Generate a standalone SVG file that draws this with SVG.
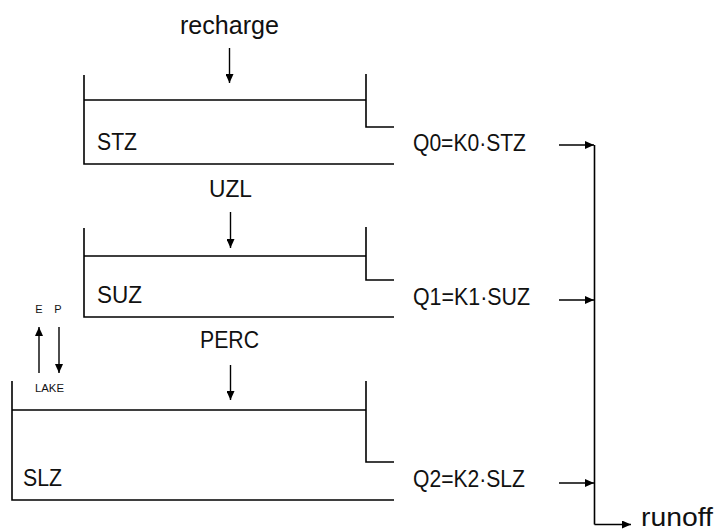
<svg xmlns="http://www.w3.org/2000/svg" width="719" height="531" viewBox="0 0 719 531">
<style>
  .ln{stroke:#000;stroke-width:1.6;fill:none}
  .ar{stroke:#000;stroke-width:1.4;fill:none;marker-end:url(#ah)}
  .t{font-family:"Liberation Sans",Arial,sans-serif;font-size:24px;fill:#111}
  .lc{font-family:"Liberation Sans",Arial,sans-serif;font-size:25px;fill:#111}
  .s{font-family:"Liberation Sans",Arial,sans-serif;font-size:11px;fill:#111}
</style>
<defs>
  <marker id="ah" markerUnits="userSpaceOnUse" markerWidth="10" markerHeight="8" refX="9" refY="4" orient="auto">
    <path d="M0,0 L9,4 L0,8 Z" fill="#000"/>
  </marker>
</defs>
<rect width="719" height="531" fill="#fff"/>

<g id="recharge"><text class="lc" x="229.5" y="34" text-anchor="middle" textLength="99" lengthAdjust="spacingAndGlyphs">recharge</text></g>

<g id="STZ">
  <path class="ln" d="M84,75 V164 H394 M84,100 H366 M366,74 V127 H394"/>
  <text class="t" x="97" y="150" textLength="40" lengthAdjust="spacingAndGlyphs">STZ</text>
</g>
<g id="Q0"><text class="t" x="413" y="151" textLength="113" lengthAdjust="spacingAndGlyphs">Q0=K0·STZ</text></g>

<g id="UZL"><text class="t" x="230.5" y="197" text-anchor="middle" textLength="43" lengthAdjust="spacingAndGlyphs">UZL</text></g>

<g id="SUZ">
  <path class="ln" d="M84,228 V317 H394 M84,256 H366 M366,227 V280 H394"/>
  <text class="t" x="97" y="303" textLength="45" lengthAdjust="spacingAndGlyphs">SUZ</text>
</g>
<g id="Q1"><text class="t" x="413" y="305" textLength="117" lengthAdjust="spacingAndGlyphs">Q1=K1·SUZ</text></g>

<g id="PERC"><text class="t" x="229.5" y="348" text-anchor="middle" textLength="59" lengthAdjust="spacingAndGlyphs">PERC</text></g>

<g id="EP">
  <text class="s" x="39" y="313" text-anchor="middle" font-size="10">E</text>
  <text class="s" x="58" y="313" text-anchor="middle" font-size="10">P</text>
</g>
<g id="LAKE"><text class="s" x="49.5" y="392" text-anchor="middle" textLength="29" lengthAdjust="spacingAndGlyphs">LAKE</text></g>

<g id="SLZ">
  <path class="ln" d="M12,381 V500 H394 M12,410 H366 M366,381 V462 H394"/>
  <text class="t" x="23" y="486" textLength="39" lengthAdjust="spacingAndGlyphs">SLZ</text>
</g>
<g id="Q2"><text class="t" x="413" y="487" textLength="112" lengthAdjust="spacingAndGlyphs">Q2=K2·SLZ</text></g>

<g id="runoff"><text class="lc" x="641" y="526" font-size="23" textLength="72" lengthAdjust="spacingAndGlyphs">runoff</text></g>

<g id="connectors">
  <path class="ar" d="M229.5,48 V83"/>
  <path class="ar" d="M230.5,212 V248"/>
  <path class="ar" d="M230.5,365 V400"/>
  <path class="ar" d="M39,373 V327"/>
  <path class="ar" d="M59,327 V373"/>
  <path class="ar" d="M559,145 H594"/>
  <path class="ar" d="M559,300 H594"/>
  <path class="ar" d="M559,483 H594"/>
  <path class="ln" d="M594.5,145 V524.5"/>
  <path class="ar" d="M594.5,524.5 H631"/>
</g>
</svg>
